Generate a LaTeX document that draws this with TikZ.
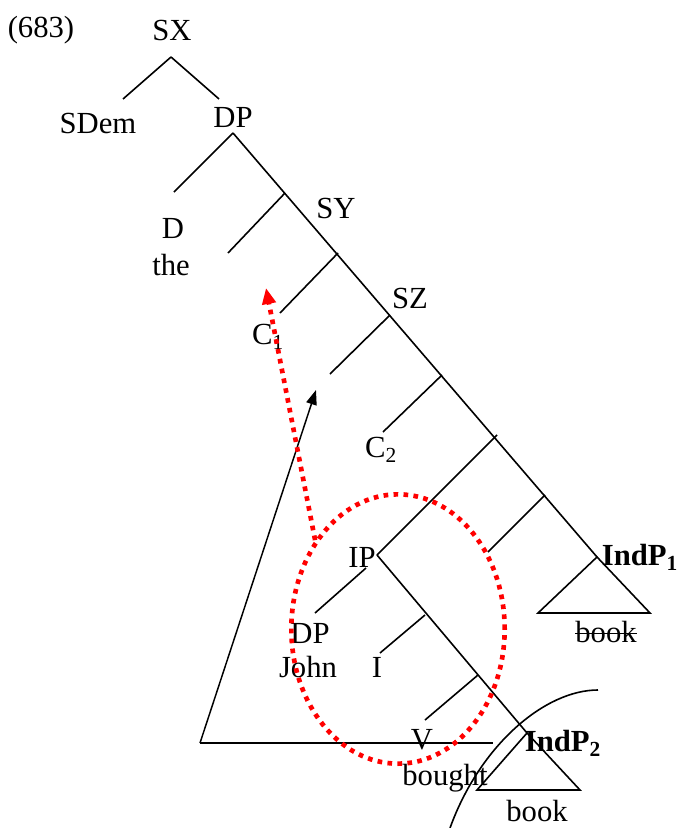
\documentclass[tikz,border=0pt]{standalone}
\usepackage{fontspec}
\setmainfont{Liberation Serif}
\usetikzlibrary{arrows.meta,shapes.geometric}
\tikzset{
  lab/.style      = {inner sep=0pt, font=\fontsize{23}{26}\selectfont},
  branch/.style   = {line width=1.2pt},
  strike/.style   = {line width=1pt},
  movearrow/.style= {-{Triangle[length=11pt,width=8pt]}, line width=1.1pt},
  redmove/.style  = {-{Triangle[length=12pt,width=10pt]}, red, line width=3.5pt,
                     dash pattern=on 3.5pt off 4pt},
  redring/.style  = {ellipse, draw=red, line width=3.5pt, dash pattern=on 3.5pt off 4pt,
                     minimum width=160pt, minimum height=202pt, inner sep=0pt},
}

\begin{document}
\begin{tikzpicture}[x=0.75pt, y=-0.75pt]
\useasboundingbox (0,0) rectangle (681,828);

\node[lab] (num) at (41,30) {(683)};
\node[lab] (sx) at (172,30) {SX};
\node[lab] (sdem) at (98,123) {SDem};
\node[lab] (dp) at (233,117) {DP};
\coordinate (sxtop) at (171,57);
\coordinate (sdemtop) at (123,99);
\coordinate (dptop) at (219,99);
\draw[branch] (sxtop) to (sdemtop) {} ;
\draw[branch] (sxtop) to (dptop) {} ;

\coordinate (j1) at (233,133);
\coordinate (j2) at (285,193);
\coordinate (j3) at (338,253);
\coordinate (j4) at (390,315);
\coordinate (j5) at (442,375);
\coordinate (j6) at (497,435);
\coordinate (j7) at (545,495);
\coordinate (ind1) at (597,557);
\coordinate (l1) at (174,192);
\coordinate (l2) at (228,253);
\coordinate (l3) at (280,313);
\coordinate (l4) at (330,374);
\coordinate (l5) at (383,432);
\coordinate (l7) at (488,552);
\coordinate (ip) at (377,555);
\draw[branch] (j1) to (ind1) {} ;
\draw[branch] (j1) to (l1) {} ;
\draw[branch] (j2) to (l2) {} ;
\draw[branch] (j3) to (l3) {} ;
\draw[branch] (j4) to (l4) {} ;
\draw[branch] (j5) to (l5) {} ;
\draw[branch] (j6) to (ip) {} ;
\draw[branch] (j7) to (l7) {} ;

\coordinate (t1a) at (538,613);
\coordinate (t1b) at (650,613);
\draw[branch] (ind1) -- (t1a) -- (t1b) -- cycle;

\node[lab] (d) at (173,228) {D};
\node[lab] (the) at (171,265) {the};
\node[lab] (sy) at (336,208) {SY};
\node[lab] (sz) at (410,298) {SZ};
\node[lab] (c1) at (268,337) {C\textsubscript{1}};
\node[lab] (c2) at (381,450) {C\textsubscript{2}};
\node[lab] (indp1) at (640,557) {\bfseries IndP\textsubscript{1}};
\node[lab] (book1) at (606,632) {book};
\draw[strike] ([yshift=-1pt]book1.west) to ([yshift=-1pt]book1.east) {} ;

\coordinate (dpj) at (315,613);
\coordinate (ipl) at (366,568);
\coordinate (k1) at (425,615);
\coordinate (k2) at (478,675);
\coordinate (ind2) at (527,733);
\coordinate (li) at (380,653);
\coordinate (lv) at (425,720);
\draw[branch] (ip) to (ind2) {} ;
\draw[branch] (ipl) to (dpj) {} ;
\draw[branch] (k1) to (li) {} ;
\draw[branch] (k2) to (lv) {} ;

\coordinate (t2a) at (477,790);
\coordinate (t2b) at (580,790);
\draw[branch] (ind2) -- (t2a) -- (t2b) -- cycle;

\node[lab] (iplab) at (362,557) {IP};
\node[lab] (dp2) at (310,633) {DP};
\node[lab] (john) at (308,667) {John};
\node[lab] (ilab) at (377,667) {I};
\node[lab] (vlab) at (422,740) {V};
\node[lab] (bought) at (445,778) {bought};
\node[lab] (indp2) at (563,743) {\bfseries IndP\textsubscript{2}};
\node[lab] (book2) at (537,811) {book};

\coordinate (bl) at (200,743);
\coordinate (br) at (493,743);
\coordinate (tip) at (316,390);
\draw[branch] (bl) to (br) {} ;
\draw[movearrow] (bl) to (tip) {} ;

\draw[branch] (598,690) .. controls (545,690) and (480,745) .. (450,828);

\node[redring] (circ) at (398,629) {};
\coordinate (redtip) at (266,288);
\draw[redmove] (circ.133) to (redtip) {} ;
\end{tikzpicture}
\end{document}
